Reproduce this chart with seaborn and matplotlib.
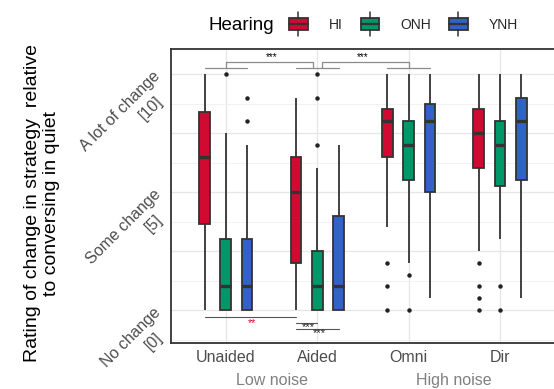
import numpy as np
import pandas as pd
import matplotlib
matplotlib.use("Agg")
import matplotlib.pyplot as plt
import seaborn as sns
from matplotlib.patches import Patch, Rectangle
from matplotlib.lines import Line2D
from matplotlib.legend_handler import HandlerBase
from matplotlib.transforms import offset_copy

# categories
conditions = ["Unaided", "Aided", "Omni", "Dir"]
hearing = ["HI", "ONH", "YNH"]
colors = ["#D10A32", "#019869", "#3262C8"]
noise_labels = ["Low noise", "High noise"]
ytick_vals = [0, 5, 10]
ytick_names = ["No change", "Some change", "A lot of change"]

# box summaries, one value per condition
hi_low = [0, 0, 3.5, 2.5]
hi_q1 = [3.625, 2, 6.5, 6]
hi_med = [6.5, 5, 8, 7.5]
hi_q3 = [8.375, 6.5, 8.5, 8.5]
hi_high = [10, 9, 10, 10]
hi_out = [[], [], [2, 1, 0], [2, 1, 0.5, 0]]

onh_low = [0, 0, 2, 3]
onh_q1 = [0, 0, 5.5, 5.25]
onh_med = [1, 1, 7, 7]
onh_q3 = [3, 2.5, 8, 8]
onh_high = [7.5, 6, 10, 10]
onh_out = [[10], [10, 9, 7], [1.5, 0], [1, 0]]

ynh_low = [0, 0, 0.5, 0.5]
ynh_q1 = [0, 0, 5, 5.5]
ynh_med = [1, 1, 8, 8]
ynh_q3 = [3, 4, 8.75, 9]
ynh_high = [7, 7, 10, 10]
ynh_out = [[9, 8], [], [], []]

summary = {
    "HI": (hi_low, hi_q1, hi_med, hi_q3, hi_high, hi_out),
    "ONH": (onh_low, onh_q1, onh_med, onh_q3, onh_high, onh_out),
    "YNH": (ynh_low, ynh_q1, ynh_med, ynh_q3, ynh_high, ynh_out),
}

# rebuild a sample per box that gives back those quartiles / whiskers
K = 20
rows = []
for h, (lo, q1, md, q3, up, out) in summary.items():
    for i, c in enumerate(conditions):
        vals = [lo[i], up[i]] + [q1[i]] * K + [md[i]] * K + [q3[i]] * K + list(out[i])
        rows += [(c, h, v) for v in vals]
df = pd.DataFrame(rows, columns=["condition", "Hearing", "rating"])

# significance marks
top_pairs = [(0, 1, "***"), (1, 2, "***")]
bottom_pairs = [
    (0, 0, 1, 0, -0.3, "**", "#D10A32"),
    (1, 0, 1, 1, -0.55, "***", "#222222"),
    (1, 0, 1, 2, -0.8, "***", "#222222"),
]

sns.set_theme(style="white")
plt.rcParams["font.family"] = ["Liberation Sans", "DejaVu Sans"]

fig = plt.figure(figsize=(5.54, 3.89), dpi=100)
ax = fig.add_axes([171 / 554, 1 - 343.3 / 389, (554.8 - 171) / 554, (343.3 - 49.3) / 389])

sns.boxplot(data=df, x="condition", y="rating", hue="Hearing", order=conditions,
            hue_order=hearing, palette=colors, saturation=1, width=0.7, gap=0.5,
            linecolor="#333333", linewidth=1.3, fliersize=2.2, showcaps=False,
            flierprops=dict(marker="o", markerfacecolor="#222222", markeredgecolor="#222222"),
            medianprops=dict(linewidth=2.4), legend=False, ax=ax)

ax.set_xlim(-0.6, 3.6)
ax.set_ylim(-1.41, 11.05)
ax.set_xlabel("")
ax.set_yticks([0, 2.5, 5, 7.5, 10])
ax.set_yticks([-1.25, 1.25, 3.75, 6.25, 8.75], minor=True)
ax.set_yticklabels([])
ax.tick_params(axis="both", which="major", length=3, width=1, color="#333333",
               labelcolor="#4D4D4D", labelsize=11.5, pad=2)
ax.tick_params(axis="y", which="minor", length=0)
ax.set_axisbelow(True)
ax.grid(True, which="major", color="#E6E6E6", linewidth=0.9)
ax.grid(True, which="minor", axis="y", color="#F0F0F0", linewidth=0.6)
for s in ax.spines.values():
    s.set_color("#333333")
    s.set_linewidth(1.3)

# rotated two-line y tick labels (ggplot style)
yt = ax.get_yaxis_transform()
for v, name in zip(ytick_vals, ytick_names):
    t1 = offset_copy(yt, fig=fig, x=-13, y=0, units="dots")
    t2 = offset_copy(yt, fig=fig, x=-11, y=-25, units="dots")
    ax.text(0, v, name, transform=t1, rotation=45, rotation_mode="anchor",
            ha="right", va="center", fontsize=11.5, color="#4D4D4D")
    ax.text(0, v, f"[{v}]", transform=t2, rotation=45, rotation_mode="anchor",
            ha="right", va="center", fontsize=11.5, color="#4D4D4D")

ax.set_ylabel("Rating of change in strategy  relative\nto conversing in quiet",
              fontsize=14, color="black", linespacing=1.15)
ax.yaxis.set_label_coords(-0.289, 0.477)

# noise groups under the tick labels
xt = ax.get_xaxis_transform()
for j, lab in enumerate(noise_labels):
    ax.text(2 * j + 0.5, -0.128, lab, transform=xt, ha="center", va="center",
            fontsize=11.5, color="#808080")

step = 0.7 / 3
def pos(ci, hi):
    return ci + (hi - 1) * step

# brackets on top
for ci in range(3):
    ax.plot([pos(ci, 0), pos(ci, 2)], [10.24, 10.24], color="#8C8C8C", lw=0.9)
for a, b, lab in top_pairs:
    xa, xb = a + (0.054 if a > 0 else 0), b - (0.051 if b == 1 else 0)
    ax.plot([xa, xa, xb, xb], [10.24, 10.5, 10.5, 10.24], color="#8C8C8C", lw=0.9)
    ax.text((a + b) / 2, 10.52, lab, ha="center", va="bottom", fontsize=7, color="black")

# comparisons below
for ca, ha_, cb, hb, y, lab, col in bottom_pairs:
    xa, xb = pos(ca, ha_), pos(cb, hb)
    ax.plot([xa, xb], [y, y], color="#555555", lw=0.8)
    red = col == "#D10A32"
    ax.text((xa + xb) / 2 + 0.02, y + (-0.02 if red else 0.02), lab, ha="center", va="top",
            fontsize=7.5 if red else 8, color=col)


class BoxKey(HandlerBase):
    def create_artists(self, legend, orig, xd, yd, w, h, fs, trans):
        fc = orig.get_facecolor()
        x0, y0 = -xd, -yd
        box = Rectangle((x0, y0), w, h, facecolor=fc, edgecolor="#333333", lw=1.3, transform=trans)
        med = Line2D([x0, x0 + w], [y0 + h / 2] * 2, color="#333333", lw=1.6, transform=trans)
        wt = Line2D([x0 + w / 2] * 2, [y0 + h, y0 + h + 4], color="#333333", lw=1.1, transform=trans)
        wb = Line2D([x0 + w / 2] * 2, [y0 - 4, y0], color="#333333", lw=1.1, transform=trans)
        return [box, med, wt, wb]


handles = [Patch(facecolor=c, label=h) for h, c in zip(hearing, colors)]
fig.legend(handles=handles, loc="center left", bbox_to_anchor=(289 / 554, 1 - 25 / 389),
           ncol=3, frameon=False, fontsize=10, handlelength=1.35, handleheight=1.0,
           handletextpad=1.5, columnspacing=1.3, borderpad=0, borderaxespad=0,
           handler_map={Patch: BoxKey()})
fig.text(208 / 554, 1 - 25 / 389, "Hearing", ha="left", va="center", fontsize=13.5, color="black")

fig.savefig("out.png", dpi=100)
